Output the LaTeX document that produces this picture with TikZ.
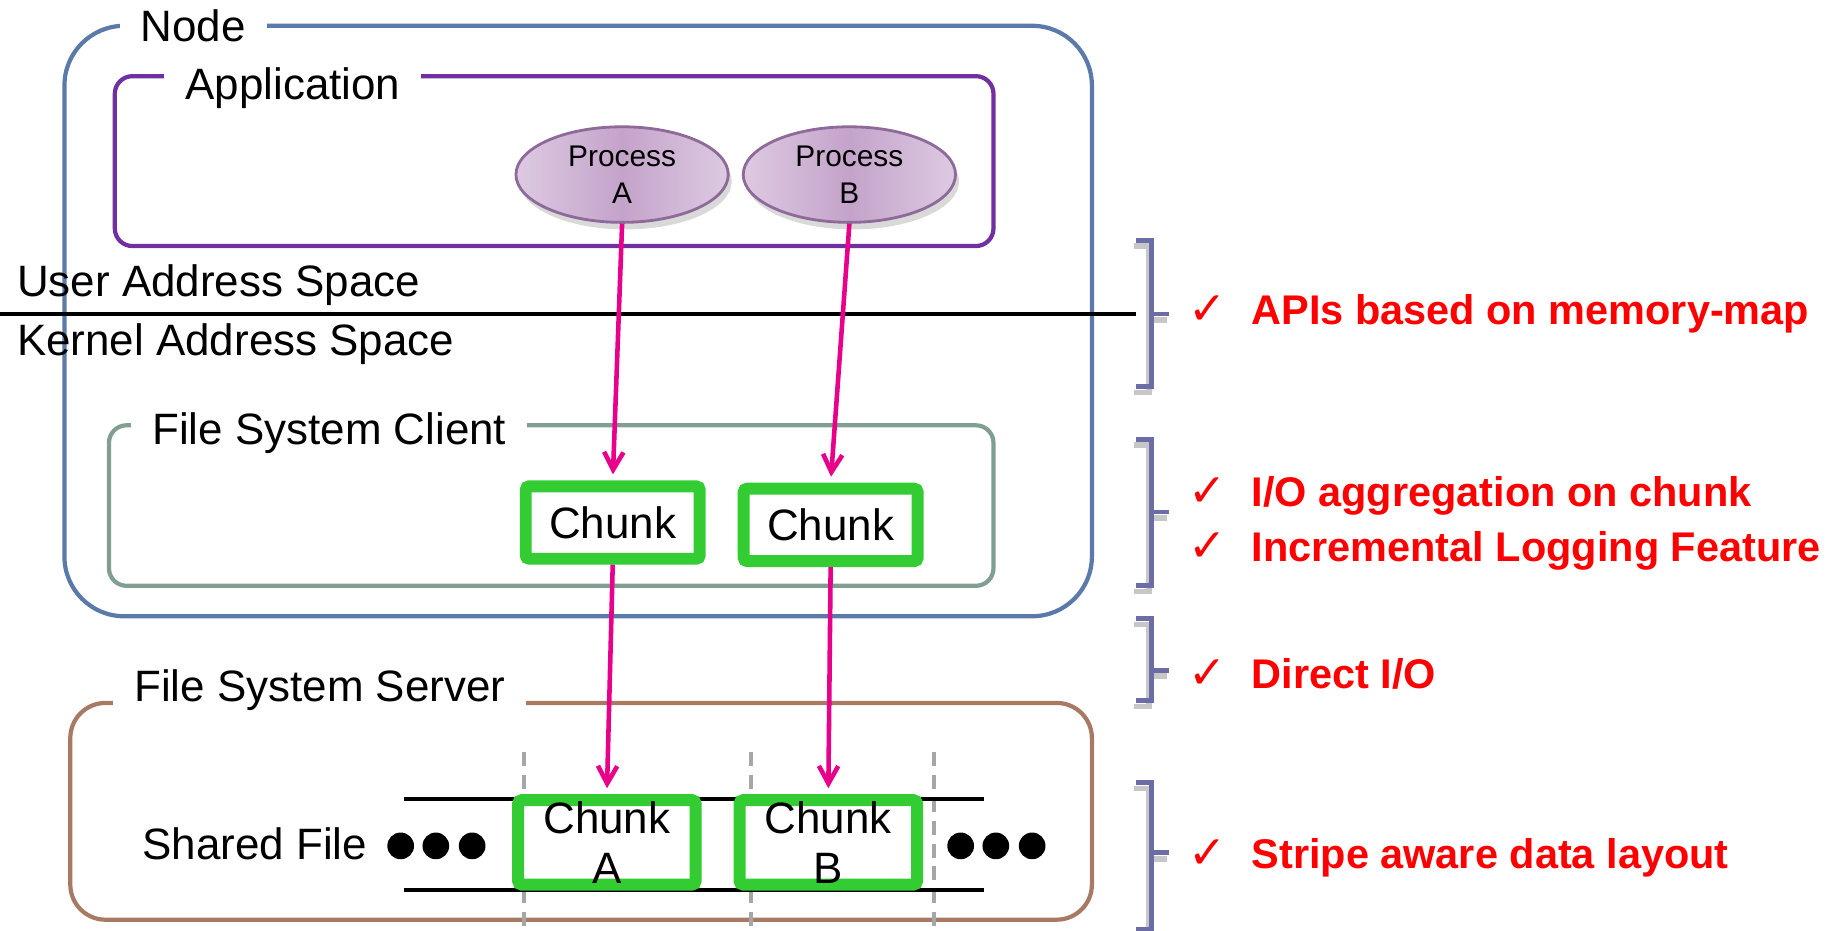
\documentclass[tikz,border=0pt]{standalone}
\usepackage{fontspec}
\setmainfont{Liberation Sans}
\newfontfamily\symfont{DejaVu Sans}
\usetikzlibrary{arrows.meta,shapes.geometric,shadows}

\definecolor{nodeblue}{HTML}{5B79A9}
\definecolor{apppurple}{HTML}{7030A0}
\definecolor{clientgreen}{HTML}{809F91}
\definecolor{serverbrown}{HTML}{A87A64}
\definecolor{chunkgreen}{HTML}{33CC33}
\definecolor{arrowpink}{HTML}{E8008A}
\definecolor{proclight}{HTML}{DDCAE2}
\definecolor{procdark}{HTML}{C4A3CA}
\definecolor{procline}{HTML}{8E6A9A}
\definecolor{bracketblue}{HTML}{6C6CA6}
\definecolor{stripegray}{HTML}{A6A6A6}

\newcommand{\okmark}{{\mdseries\symfont\fontsize{13}{14}\selectfont ✓}\hspace{7pt}}

\tikzset{
    plain/.style={font=\fontsize{12.5}{15}\selectfont},
    boxlabel/.style={plain, fill=white, inner xsep=6pt, inner ysep=2pt},
    process/.style={ellipse, draw=procline, line width=0.8pt,
        left color=proclight, right color=proclight, middle color=procdark,
        drop shadow={opacity=0.3, shadow xshift=1pt, shadow yshift=-2pt},
        minimum width=60.4pt, minimum height=27.2pt, inner sep=0pt,
        align=center, font=\fontsize{8.5}{10.6}\selectfont},
    chunkbox/.style={draw=chunkgreen, line width=3.4pt, fill=white,
        rounded corners=1pt, minimum width=49.5pt, minimum height=20.6pt,
        inner sep=0pt, align=center, font=\fontsize{12.5}{14.3}\selectfont},
    stripbox/.style={chunkbox, minimum width=50.5pt, minimum height=24pt},
    flow/.style={-{Straight Barb[length=5pt,width=5.5pt]}, arrowpink,
        line width=1.3pt, shorten >=1.7pt},
    stripe/.style={stripegray, line width=1.1pt, dash pattern=on 4pt off 2.5pt},
    bracket/.style={bracketblue, line width=1.4pt},
    bracketshade/.style={black!22, line width=1.6pt},
    note/.style={anchor=west, text=red, font=\bfseries\fontsize{11.8}{14}\selectfont},
}

\begin{document}
\begin{tikzpicture}[x=0.11716mm, y=-0.11716mm]
    \useasboundingbox (0,0) rectangle (1568,794);

    % Node
    \draw[nodeblue, line width=1.2pt, rounded corners=17pt] (55,22) rectangle (932,526);
    \node[boxlabel] (nodelbl) at (165,22) {Node};

    % Application
    \draw[apppurple, line width=1.2pt, rounded corners=5pt] (98,65) rectangle (848,210);
    \node[boxlabel] (applbl) at (250,75) {Application};
    \node[process] (pA) at (531,149) {Process\\A};
    \node[process] (pB) at (725,149) {Process\\B};

    % User / Kernel
    \draw[black, line width=1pt] (0,268) -- (970,268);
    \node[plain, anchor=west] (user) at (4,243) {User Address Space};
    \node[plain, anchor=west] (kernel) at (4,294) {Kernel Address Space};

    % File System Client
    \draw[clientgreen, line width=1.2pt, rounded corners=5pt] (93,363) rectangle (848,500);
    \node[boxlabel] (clientlbl) at (281,370) {File System Client};
    \node[chunkbox] (cA) at (523,446) {Chunk};
    \node[chunkbox] (cB) at (709,448) {Chunk};

    % File System Server
    \draw[serverbrown, line width=1.2pt, rounded corners=10pt] (60,600) rectangle (932,785);
    \node[boxlabel] (serverlbl) at (273,589) {File System Server};
    \foreach \x in {447,641,797}
        \draw[stripe] (\x,642) -- (\x,794);
    \draw[black, line width=1.1pt] (345,682) -- (840,682) (345,760) -- (840,760);
    \node[plain, anchor=west] (shared) at (111,720) {Shared File};
    \foreach \x in {342,372,403,820,850,881}
        \fill (\x,722) circle (3.8pt);
    \node[stripbox] (sA) at (518,719) {Chunk\\A};
    \node[stripbox] (sB) at (707,719) {Chunk\\B};

    % Arrows
    \draw[flow] (pA.south) -- (cA.north);
    \draw[flow] (pB.south) -- (cB.north);
    \draw[flow] (cA.south) -- (sA.north);
    \draw[flow] (cB.south) -- (sB.north);

    % Brackets
    \foreach \ya/\yb/\ym in {205/330/268, 375/500/437, 528/598/572, 668/793/728} {
        \draw[bracketshade] (968,\ya+5) -- (981,\ya+5) -- (981,\yb+5) -- (968,\yb+5)
            (981,\ym+5) -- (996,\ym+5);
        \draw[bracket] (970,\ya) -- (983,\ya) -- (983,\yb) -- (970,\yb)
            (983,\ym) -- (998,\ym);
    }

    % Notes
    \node[note] (n1) at (1004,268) {\okmark APIs based on memory-map};
    \node[note] (n2) at (1004,423) {\okmark I/O aggregation on chunk};
    \node[note] (n3) at (1004,470) {\okmark Incremental Logging Feature};
    \node[note] (n4) at (1004,575) {\okmark Direct I/O};
    \node[note] (n5) at (1004,732) {\okmark Stripe aware data layout};
\end{tikzpicture}
\end{document}
